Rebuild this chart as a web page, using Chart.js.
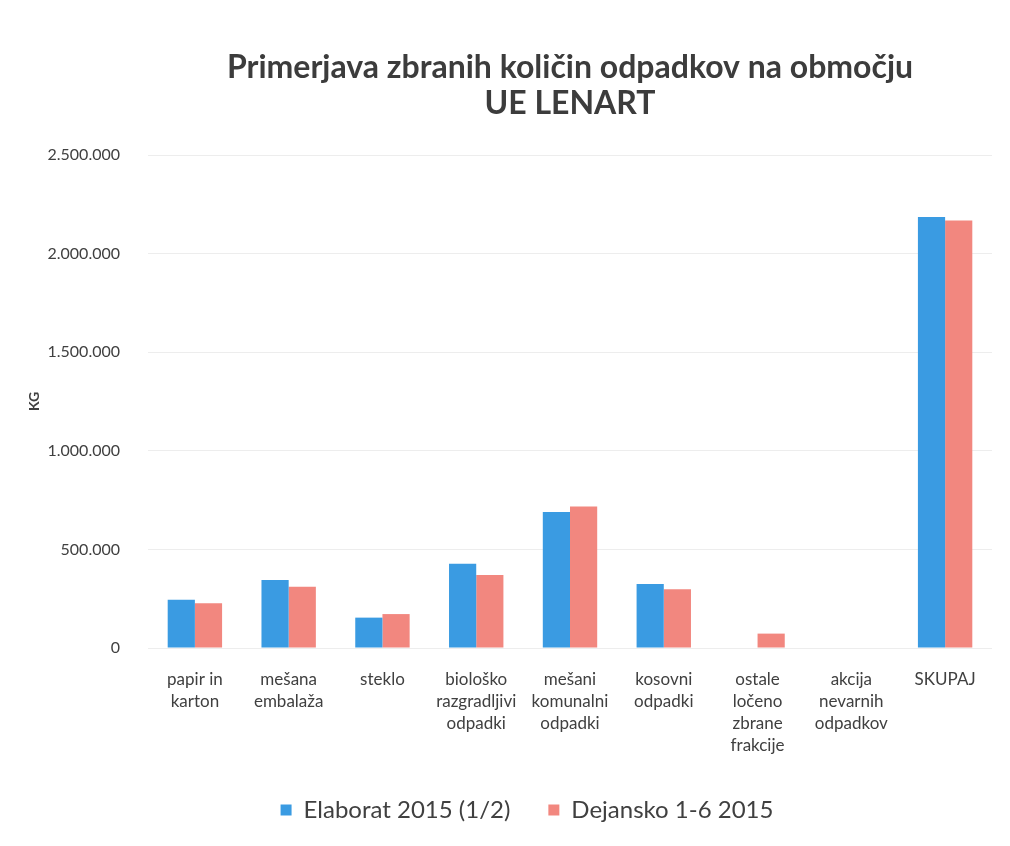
<!DOCTYPE html>
<html>
<head>
<meta charset="utf-8">
<script src="https://cdn.jsdelivr.net/npm/chart.js@4/dist/chart.umd.min.js"></script>
<style>
  html, body { margin: 0; padding: 0; background: #fff; overflow: hidden; width: 1010px; height: 846px; }
  #wrap { position: absolute; left: 0; top: 0; width: 1010px; height: 846px; }
</style>
</head>
<body>
<div id="wrap"><canvas id="c" width="1010" height="846"></canvas></div>
<script>
const titleLines = ["Primerjava zbranih količin odpadkov na območju", "UE LENART"];
const categories = [
  ["papir in", "karton"],
  ["mešana", "embalaža"],
  ["steklo"],
  ["biološko", "razgradljivi", "odpadki"],
  ["mešani", "komunalni", "odpadki"],
  ["kosovni", "odpadki"],
  ["ostale", "ločeno", "zbrane", "frakcije"],
  ["akcija", "nevarnih", "odpadkov"],
  ["SKUPAJ"]
];
const seriesNames = ["Elaborat 2015 (1/2)", "Dejansko 1-6 2015"];
const elaborat = [245000, 345000, 154000, 427000, 690000, 325000, 0, 0, 2186000];
const dejansko = [227000, 310000, 172000, 370000, 718000, 298000, 73000, 0, 2168000];
const yTicks = [0, 500000, 1000000, 1500000, 2000000, 2500000];
const yTitle = "KG";

const FONT = "Lato, 'Open Sans', sans-serif";

const textPlugin = {
  id: 'extraText',
  afterLayout(chart) {
    // shift legend so it is centred like the original (slightly right of canvas centre)
    if (chart.legend) { chart.legend.left += 18; chart.legend.right += 18; }
  },
  afterDraw(chart) {
    const ctx = chart.ctx;
    const ca = chart.chartArea;
    const cx = (ca.left + ca.right) / 2;
    ctx.save();
    ctx.fillStyle = '#3c3c3c';
    ctx.font = "bold 32px " + FONT;
    ctx.textAlign = 'center';
    ctx.textBaseline = 'middle';
    ctx.fillText(titleLines[0], cx, 68);
    ctx.fillText(titleLines[1], cx, 104);
    ctx.restore();
  }
};

new Chart(document.getElementById('c'), {
  type: 'bar',
  data: {
    labels: categories,
    datasets: [
      { label: seriesNames[0], data: elaborat, backgroundColor: '#3A9BE2', borderWidth: 0 },
      { label: seriesNames[1], data: dejansko, backgroundColor: '#F2877F', borderWidth: 0 }
    ]
  },
  options: {
    responsive: false,
    animation: false,
    devicePixelRatio: 1,
    layout: { padding: { top: 155, right: 18, bottom: 14, left: 26 } },
    datasets: { bar: { categoryPercentage: 0.58, barPercentage: 1.0 } },
    scales: {
      x: {
        grid: { display: false, drawTicks: false },
        border: { display: false },
        afterFit(axis) { axis.height = 112; },
        ticks: {
          color: '#404040',
          font: { family: FONT, size: 17, lineHeight: 1.3 },
          padding: 20,
          maxRotation: 0,
          autoSkip: false
        }
      },
      y: {
        min: 0,
        max: 2500000,
        afterBuildTicks(axis) { axis.ticks = yTicks.map(v => ({ value: v })); },
        afterFit(axis) { axis.width = 122; },
        grid: { color: 'rgba(0,0,0,0.07)', drawTicks: false },
        border: { display: false },
        ticks: {
          color: '#404040',
          font: { family: FONT, size: 16 },
          padding: 28,
          callback: v => v === 0 ? '0' : v.toLocaleString('de-DE')
        },
        title: {
          display: true,
          text: yTitle,
          color: '#404040',
          font: { family: FONT, size: 14, weight: 'bold' },
          padding: { top: 0, bottom: 4 }
        }
      }
    },
    plugins: {
      title: { display: false },
      tooltip: { enabled: false },
      legend: {
        position: 'bottom',
        labels: {
          color: '#404040',
          font: { family: FONT, size: 24 },
          boxWidth: 11,
          boxHeight: 11,
          padding: 38
        }
      }
    }
  },
  plugins: [textPlugin]
});
</script>
</body>
</html>
